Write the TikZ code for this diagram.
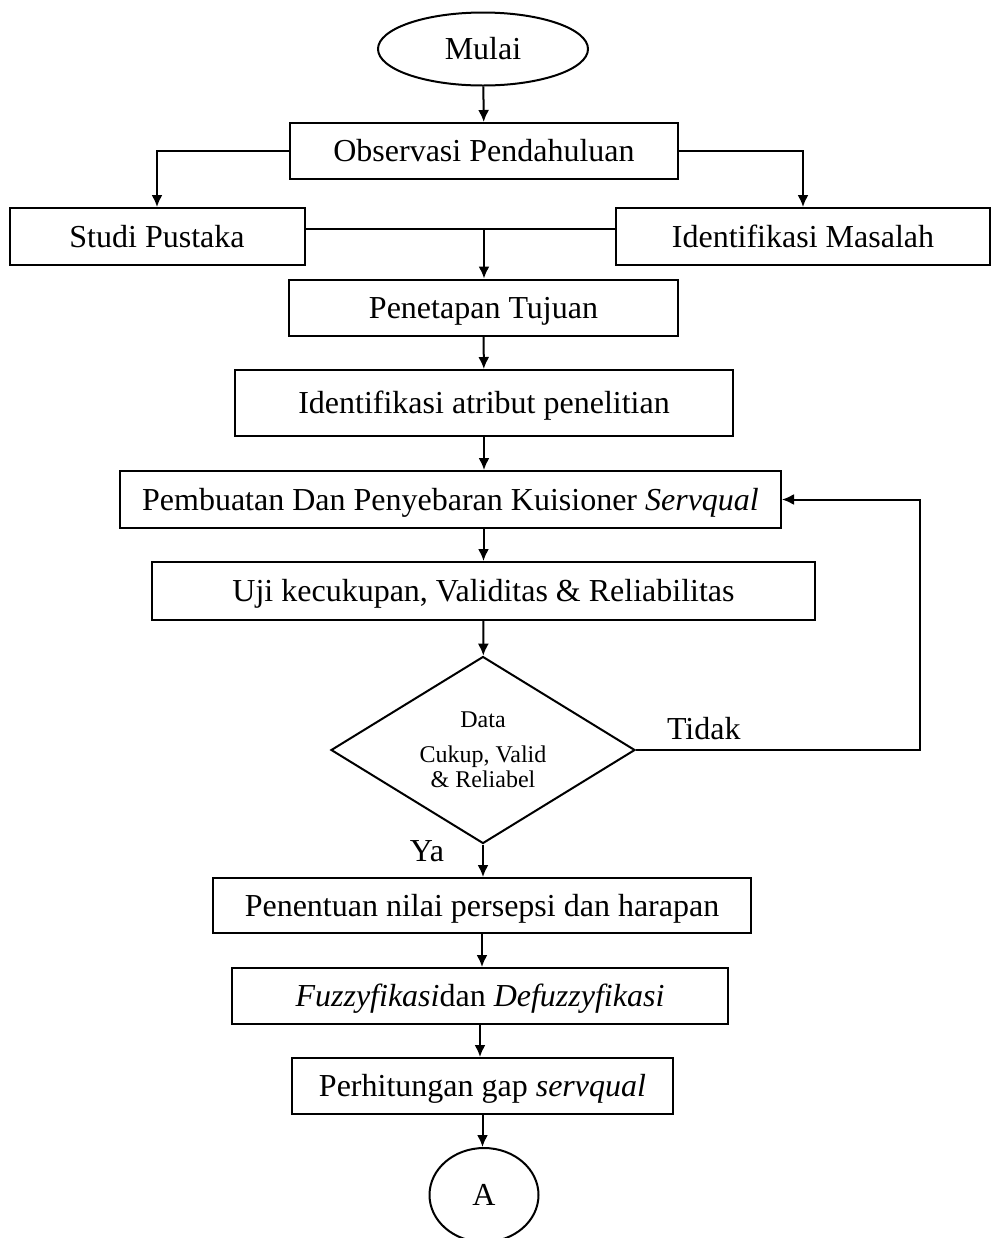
\documentclass[tikz,border=0pt]{standalone}
\usepackage{fontspec}
\setmainfont{Liberation Serif}
\usetikzlibrary{arrows.meta,calc,positioning,shapes.geometric}
\tikzset{every picture/.style={
  >={Latex[length=6pt,width=5.5pt]}   % Filled LaTeX style arrows.
  }
}

\begin{document}
\begin{tikzpicture}[
    x=0.5pt, y=-0.5pt,
    line width=1pt,
    font=\fontsize{16}{19}\selectfont,
    box/.style={
      draw,
      minimum height=28pt,
      inner sep=0pt,
      text height=11.5pt,
      text depth=1pt,
      text centered
    },
    term/.style={draw, ellipse, inner sep=0pt},
    decide/.style={
      draw,
      diamond,
      aspect=1.6,
      inner sep=0pt,
      minimum width=152pt,
      minimum height=93.5pt,
      align=center,
      font=\fontsize{12}{12.5}\selectfont
    },
    lbl/.style={inner sep=0pt}]

    % Fix the page to the size of the picture.
    \useasboundingbox (0,0) rectangle (992,1238);

    % Start and first steps.
    \node[term,minimum width=105pt,minimum height=36.5pt] (mulai) at (483,49) {Mulai};
    \node[box,minimum width=194pt] (obs) at (484,151) {Observasi Pendahuluan};
    \node[box,minimum width=147.5pt,minimum height=28.5pt] (studi) at (157,236.5) {Studi Pustaka};
    \node[box,minimum width=187pt,minimum height=28.5pt] (masalah) at (803,236.5) {Identifikasi Masalah};

    % Main column.
    \node[box,minimum width=194.5pt] (tujuan) at (483.5,307.5) {Penetapan Tujuan};
    \node[box,minimum width=249pt,minimum height=33pt] (atribut) at (484,403) {Identifikasi atribut penelitian};
    \node[box,minimum width=330.5pt,minimum height=28.5pt] (kuis) at (450.5,499.5)
      {Pembuatan Dan Penyebaran Kuisioner \textit{Servqual}};
    \node[box,minimum width=331.5pt,minimum height=29pt] (uji) at (483.5,591)
      {Uji kecukupan, Validitas \& Reliabilitas};

    % The decision.
    \node[decide] (cek) at (483,750) {Data\\[5pt]Cukup, Valid\\\& Reliabel};

    % Steps after the decision.
    \node[box,minimum width=269pt,minimum height=27.5pt] (nilai) at (482,905.5)
      {Penentuan nilai persepsi dan harapan};
    \node[box,minimum width=248pt] (fuzzy) at (480,996)
      {\textit{Fuzzyfikasi}dan \textit{Defuzzyfikasi}};
    \node[box,minimum width=190.5pt] (gap) at (482.5,1086) {Perhitungan gap \textit{servqual}};
    \node[term,minimum width=54.5pt,minimum height=47pt] (hal) at (484,1195) {A};

    % Connectors at the top.
    \draw[->] (mulai) -- (obs);
    \draw[->] (obs.west) -| (studi.north);
    \draw[->] (obs.east) -| (masalah.north);
    \coordinate (join) at (484,229);
    \draw (studi.east |- join) -- (masalah.west |- join);
    \draw[->] (join) -- (join |- tujuan.north);
    \draw[->] (tujuan) -- (atribut);
    \draw[->] (atribut.south) -- (atribut.south |- kuis.north);
    \draw[->] (uji.north |- kuis.south) -- (uji.north);
    \draw[->] (uji) -- (cek);

    % Loop back when the data fail.
    \coordinate (balik) at (920,750);
    \draw[->] (cek.east) -- (balik) |- (kuis.east);
    \node[lbl,anchor=base west] (tidak) at (666,739) {Tidak};

    % Go on when the data pass.
    \draw[->] (cek.south) -- (cek.south |- nilai.north);
    \node[lbl,anchor=base east] (ya) at (445,861) {Ya};
    \draw[->] (nilai.south) -- (nilai.south |- fuzzy.north);
    \draw[->] (fuzzy.south) -- (fuzzy.south |- gap.north);
    \draw[->] (gap.south) -- (gap.south |- hal.north);
\end{tikzpicture}
\end{document}
